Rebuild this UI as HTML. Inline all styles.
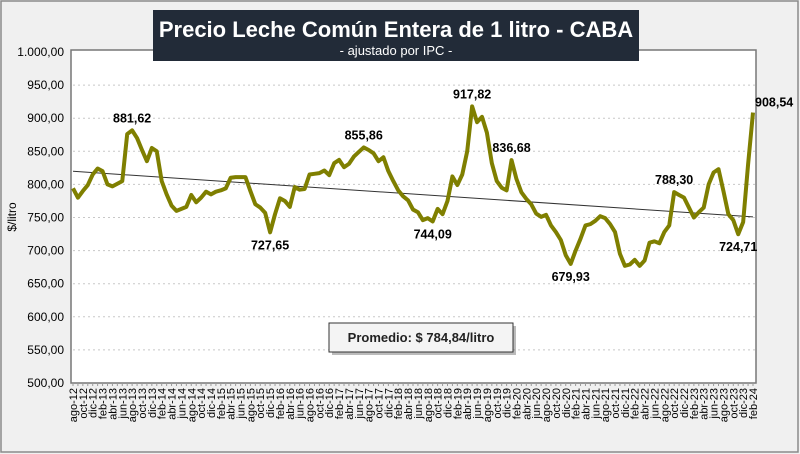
<!DOCTYPE html>
<html><head><meta charset="utf-8"><style>
body{margin:0;background:#f0f0f0;}
#wrap{position:relative;width:800px;height:454px;overflow:hidden;background:#f0f0f0;font-family:"Liberation Sans",sans-serif;}
</style></head><body>
<div id="wrap">
<svg id="chart" width="800" height="454"></svg>
</div>
<script>
const months=["ene","feb","mar","abr","may","jun","jul","ago","sep","oct","nov","dic"];
const startMonth=7, startYear=12;
const values=[794,780,790,799,815,824,820,800,797,801,805,876,881.62,870,852,835,855,850,805,785,768,760,763,766,784,773,780,789,785,789,791,794,810,811,811,811,790,770,765,757,727.65,755,779,775,766,796,792,793,815,816,817,821,814,832,837,826,831,842,849,855.86,852,847,835,841,820,805,791,782,776,762,758,746,749,744.09,763,755,775,812,799,815,850,917.82,894,902,878,832,805,795,791,836.68,808,788,778,770,756,751,754,738,728,716,693,679.93,700,718,738,740,745,752,749,740,728,695,677,679,686,677,685,712,714,711,728,738,788.30,784,780,765,750,758,765,800,818,823,790,755,746,724.71,743,830,908.54];
const yTicks=[500,550,600,650,700,750,800,850,900,950,1000];
const labelIdx=[12,59,40,73,81,89,101,122,135,138];
const average=784.84;
const NS="http://www.w3.org/2000/svg";
const svg=document.getElementById('chart');
const L=73,R=753,T=52,B=383,ymin=500,ymax=1000;
function xs(i){return L+(R-L)*i/(values.length-1);}
function ys(v){return B-(v-ymin)/(ymax-ymin)*(B-T);}
function mk(tag,attrs,txt){const e=document.createElementNS(NS,tag);for(const k in attrs)e.setAttribute(k,attrs[k]);if(txt!==undefined)e.textContent=txt;svg.appendChild(e);return e;}
function fmt(v){let s=v.toFixed(2).replace('.',',');let [a,b]=s.split(',');a=a.replace(/\B(?=(\d{3})+(?!\d))/g,'.');return a+','+b;}
let e=mk('rect',{x:1,y:1,width:797,height:451,fill:'#f0f0f0',stroke:'#8a8a8a','stroke-width':1.5});

e=mk('rect',{x:L-2,y:T-2,width:R-L+5,height:B-T+2,fill:'#fff',stroke:'#777','stroke-width':1.5});

yTicks.forEach(t=>{
 if(t>ymin&&t<ymax){const g=mk('line',{x1:L,x2:R+2,y1:ys(t),y2:ys(t),stroke:'#c8c8c8','stroke-dasharray':'2,3'});
 }
 const tl=mk('text',{x:64,y:ys(t)+4,'text-anchor':'end','font-size':12,fill:'#000'},fmt(t));
 
});
e=mk('text',{x:16,y:217,'text-anchor':'middle','font-size':12,transform:'rotate(-90 16 217)'},'$/litro');

for(let i=0;i<values.length;i++){
 const tk=mk('line',{x1:xs(i),x2:xs(i),y1:B,y2:B+3,stroke:'#999'});
 
 if(i%2===0){const m=(startMonth+i)%12,yr=startYear+Math.floor((startMonth+i)/12);
  const lx=xs(i)+4,ly=B+5;
  const tl=mk('text',{x:lx,y:ly,'text-anchor':'end','font-size':11,transform:`rotate(-90 ${lx} ${ly})`},months[m]+'-'+yr);
  }
}
const n=values.length;let sx=0,sy=0,sxy=0,sxx=0;values.forEach((v,i)=>{sx+=i;sy+=v;sxy+=i*v;sxx+=i*i;});
const slope=(n*sxy-sx*sy)/(n*sxx-sx*sx),icp=(sy-slope*sx)/n;
e=mk('line',{x1:xs(0),y1:ys(icp),x2:xs(n-1),y2:ys(icp+slope*(n-1)),stroke:'#333','stroke-width':1});

e=mk('polyline',{points:values.map((v,i)=>xs(i)+','+ys(v)).join(' '),fill:'none',stroke:'#7f7f00','stroke-width':4,'stroke-linejoin':'round'});

labelIdx.forEach(i=>{
 const v=values[i];const peak=(i===0||v>=values[i-1])&&(i===n-1||v>=values[i+1]);
 let x=xs(i),y=peak?ys(v)-8:ys(v)+17,anchor='middle';
 if(i===n-1){x=xs(i)+2;y=ys(v)-6;anchor='start';}
 const t=mk('text',{x:x,y:y,'text-anchor':anchor,'font-size':12.5,'font-weight':'bold'},fmt(v));
 
});
e=mk('rect',{x:332,y:326,width:184,height:29,fill:'#555',opacity:0.4});

e=mk('rect',{x:329,y:323,width:184,height:29,fill:'#f4f4f4',stroke:'#333','stroke-width':1});

e=mk('text',{x:421,y:342,'text-anchor':'middle','font-size':13,'font-weight':'bold',fill:'#222'},'Promedio: $ '+fmt(average)+'/litro');

e=mk('rect',{x:153,y:10,width:486,height:51,fill:'#222b38'});

e=mk('text',{x:396,y:37,'text-anchor':'middle','font-size':22,'font-weight':'bold',fill:'#fff'},'Precio Leche Común Entera de 1 litro - CABA');

e=mk('text',{x:396,y:55,'text-anchor':'middle','font-size':13,fill:'#fff'},'- ajustado por IPC -');

</script>
</body></html>
